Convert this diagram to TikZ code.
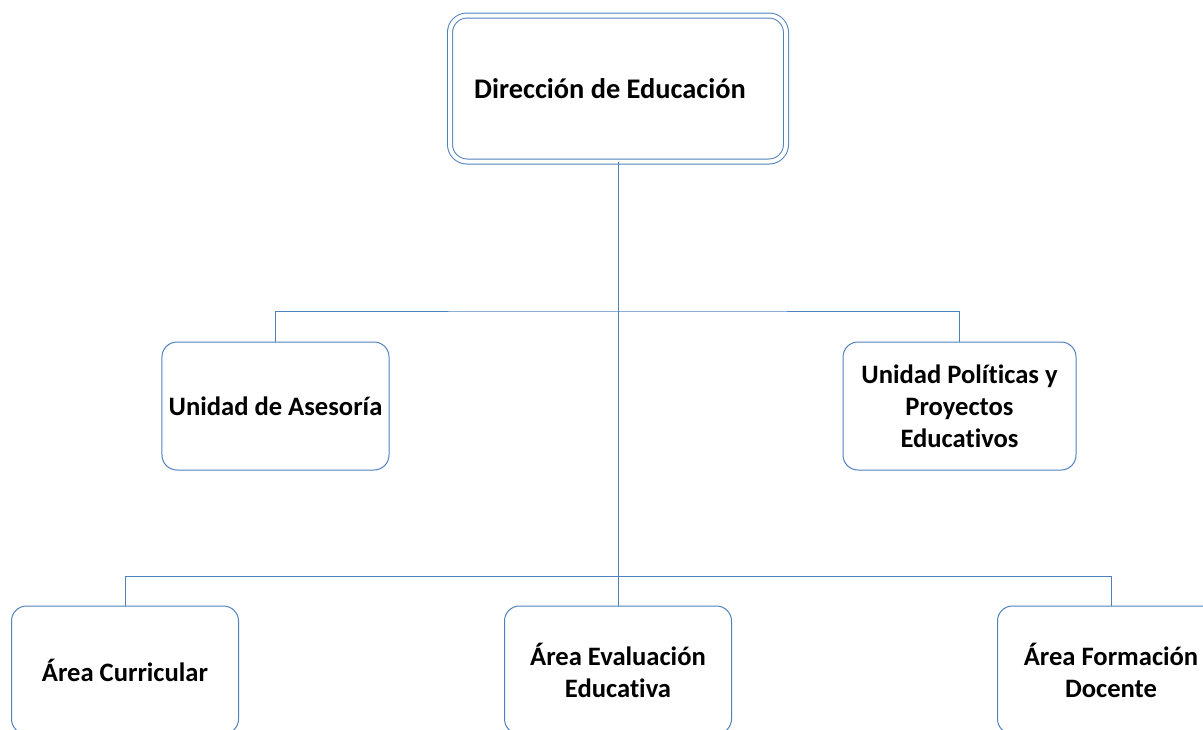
\documentclass[tikz,border=0pt]{standalone}
\usepackage{fontspec}
\setmainfont{Carlito}[Ligatures={NoCommon,NoDiscretionary}]
\definecolor{orgline}{HTML}{4F81BD}
\tikzset{
    unitbox/.style={draw=orgline, line width=0.5pt, rounded corners=7.5pt,
        minimum width=113.5pt, minimum height=64pt, align=center,
        font=\bfseries\fontsize{13.3}{16}\selectfont, text=black},
    headbox/.style={unitbox, double=white, double distance=2pt, rounded corners=8.5pt,
        minimum width=168pt, minimum height=73pt,
        font=\bfseries\fontsize{14.2}{17}\selectfont},
    link/.style={draw=orgline, line width=0.5pt}
}
\begin{document}
        \begin{tikzpicture}[x=0.5pt,y=-0.5pt]
            \clip (0,0) rectangle (1203,729);
            % Coordinates
            \coordinate (T) at (618,88.5);
            \coordinate (A) at (275.5,406);
            \coordinate (P) at (959.5,406);
            \coordinate (C) at (125,670);
            \coordinate (V) at (618,670);
            \coordinate (F) at (1111,670);
            \coordinate (busA) at (618,311);
            \coordinate (busB) at (618,576);
            % Boxes
            \node[headbox] (dir) at (T) {Dirección de Educación\hspace*{8pt}};
            \node[unitbox] (ase) at (A) {Unidad de Asesoría};
            \node[unitbox, minimum width=116.5pt] (pol) at (P) {Unidad Políticas y\\Proyectos\\Educativos};
            \node[unitbox] (cur) at (C) {Área Curricular};
            \node[unitbox] (eva) at (V) {Área Evaluación\\Educativa};
            \node[unitbox] (for) at (F) {Área Formación\\Docente};

            % draw connecting lines
            \draw[link] (dir.south) -- (eva.north);
            \draw[link] (ase.north) |- (busA) -| (pol.north);
            \draw[link] (cur.north) |- (busB) -| (for.north);
        \end{tikzpicture}
\end{document}
